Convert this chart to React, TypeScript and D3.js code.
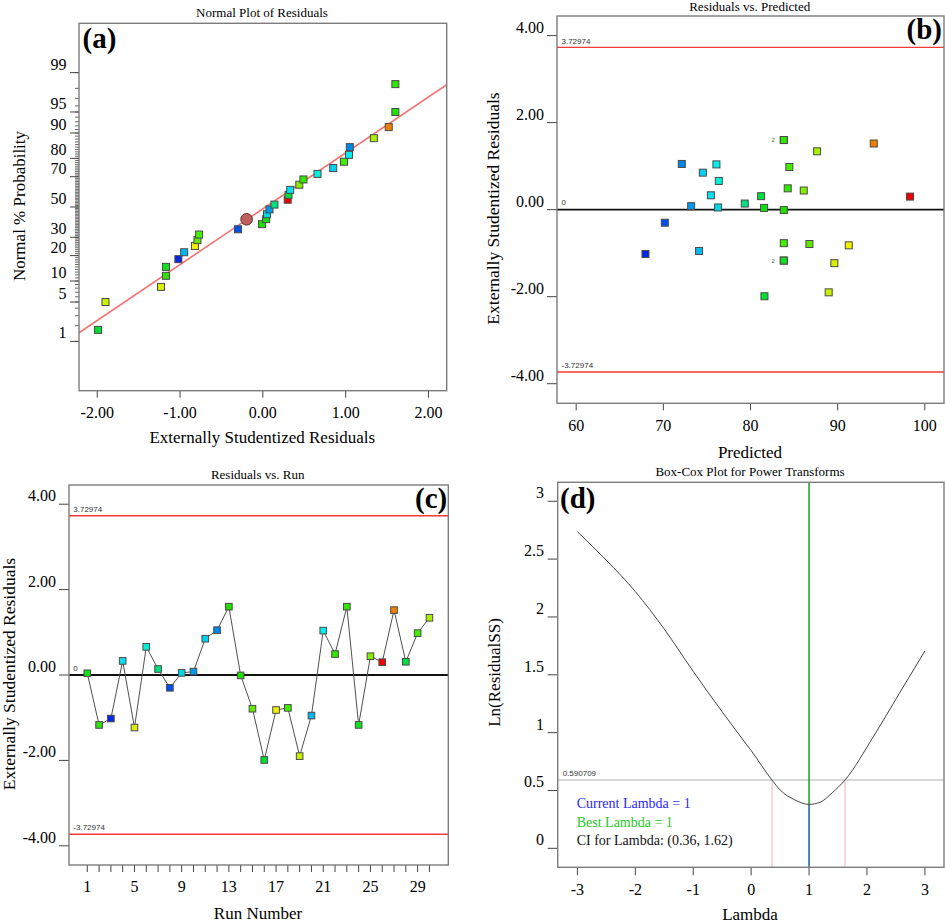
import React from 'react';
import * as d3 from 'd3';

// ---------------- DATA ----------------
const runNumbers = [1,2,3,4,5,6,7,8,9,10,11,12,13,14,15,16,17,18,19,20,21,22,23,24,25,26,27,28,29,30];
const residuals = [0.04,-1.17,-1.02,0.33,-1.23,0.66,0.14,-0.30,0.05,0.08,0.85,1.05,1.60,-0.01,-0.79,-1.99,-0.82,-0.77,-1.90,-0.95,1.04,0.49,1.60,-1.17,0.44,0.30,1.52,0.31,0.98,1.34];
const predicted = [81.56,83.82,67.95,75.45,89.62,76.36,79.34,70.17,76.28,73.19,74.53,72.12,83.82,83.82,86.76,81.6,91.27,83.82,88.97,74.1,76.09,84.27,83.82,83.82,86.11,98.3,94.14,81.22,84.46,87.64];
const runColors = ['#12e012','#30e010','#0028e0','#00e0f0','#d8f000','#00f0d8','#00e080','#0050f0','#00d8e8','#0098f0','#00d0f0','#0088e8','#20e000','#20e000','#60e800','#00e030','#f0f000','#40f000','#c8f000','#00b8f0','#00f0f0','#30e800','#30e800','#10e020','#80f000','#f00000','#f08000','#00e040','#40f000','#a8f000'];
// normal % probability of the sorted residuals
const normPct = [1.67,5,8.33,11.67,15,18.33,21.67,25,28.33,31.67,35,38.33,41.67,45,48.33,51.67,55,58.33,61.67,65,68.33,71.67,75,78.33,81.67,85,88.33,91.67,95,98.33];
const normLineSlope = 0.967;
const normLineIntercept = -0.03;
const normCircle = { x: -0.196, z: -0.213 };
const probMajor = [1,5,10,20,30,50,70,80,90,95,99];
const probMinor = [1,2,3,4,5,6,7,8,9,10,11,12,13,14,15,16,17,18,19,20,21,22,23,24,25,26,27,28,29,30,31,32,33,34,35,36,37,38,39,40,41,42,43,44,45,46,47,48,49,50,51,52,53,54,55,56,57,58,59,60,61,62,63,64,65,66,67,68,69,70,71,72,73,74,75,76,77,78,79,80,81,82,83,84,85,86,87,88,89,90,91,92,93,94,95,96,97,98,99];
const residTicksA = [-2,-1,0,1,2];
const residTicks = [-4,-2,0,2,4];
const predTicks = [60,70,80,90,100];
const runTicksLabeled = [1,5,9,13,17,21,25,29];
const outlierLimit = 3.72974;

const lambdaVals = [-3,-2.5,-2,-1.5,-1,-0.5,-0.19,0,0.36,0.5,0.75,1,1.19,1.4,1.62,2.11,2.56,3];
const lnRss = [2.737,2.49,2.22,1.895,1.53,1.18,0.971,0.845,0.59,0.505,0.42,0.38,0.398,0.48,0.59,0.965,1.34,1.706];
const lambdaTicks = [-3,-2,-1,0,1,2,3];
const lnTicks = [0,0.5,1,1.5,2,2.5,3];
const ciLow = 0.36, ciHigh = 1.62, ciThreshold = 0.590709, currentLambda = 1, bestLambda = 1;

// ---------------- HELPERS ----------------
const serif = '"Liberation Serif","Times New Roman",serif';
const sans = '"Liberation Sans","DejaVu Sans",sans-serif';
const frameColor = '#7c7c7c';

function invNorm(p: number): number {
  const a = [-39.69683028665376, 220.9460984245205, -275.9285104469687, 138.357751867269, -30.66479806614716, 2.506628277459239];
  const b = [-54.47609879822406, 161.5858368580409, -155.6989798598866, 66.80131188771972, -13.28068155288572];
  const c = [-0.007784894002430293, -0.3223964580411365, -2.400758277161838, -2.549732539343734, 4.374664141464968, 2.938163982698783];
  const d = [0.007784695709041462, 0.3224671290700398, 2.445134137142996, 3.754408661907416];
  const pl = 0.02425;
  let q, r;
  if (p < pl) {
    q = Math.sqrt(-2 * Math.log(p));
    return (((((c[0]*q+c[1])*q+c[2])*q+c[3])*q+c[4])*q+c[5]) / ((((d[0]*q+d[1])*q+d[2])*q+d[3])*q+1);
  } else if (p <= 1 - pl) {
    q = p - 0.5; r = q*q;
    return (((((a[0]*r+a[1])*r+a[2])*r+a[3])*r+a[4])*r+a[5])*q / (((((b[0]*r+b[1])*r+b[2])*r+b[3])*r+b[4])*r+1);
  } else {
    q = Math.sqrt(-2 * Math.log(1 - p));
    return -(((((c[0]*q+c[1])*q+c[2])*q+c[3])*q+c[4])*q+c[5]) / ((((d[0]*q+d[1])*q+d[2])*q+d[3])*q+1);
  }
}

const Sq = ({ x, y, fill, s = 7 }: any) => (
  <rect x={x - s / 2} y={y - s / 2} width={s} height={s} fill={fill} stroke="#4a4a4a" strokeWidth={1} />
);

// ---------------- PANELS ----------------
function PanelA() {
  const x0 = 79, x1 = 446.7, y0 = 23.3, y1 = 390.7;
  const xs = d3.scaleLinear().domain([-2.22, 2.22]).range([x0, x1]);
  const ys = d3.scaleLinear().domain([-3.18, 3.18]).range([y1, y0]);
  const order = d3.range(residuals.length).sort((i, j) => residuals[i] - residuals[j]);
  const lineX = xs.domain();
  return (
    <g>
      <text x={262} y={17} fontFamily={serif} fontSize={13} textAnchor="middle">Normal Plot of Residuals</text>
      <defs><clipPath id="clipA"><rect x={x0} y={y0} width={x1 - x0} height={y1 - y0} /></clipPath></defs>
      <line x1={xs(lineX[0])} y1={ys(normLineSlope * lineX[0] + normLineIntercept)} x2={xs(lineX[1])} y2={ys(normLineSlope * lineX[1] + normLineIntercept)} stroke="#f27272" strokeWidth={1.6} clipPath="url(#clipA)" />
      {probMinor.map(p => <line key={'m' + p} x1={x0 - 4} x2={x0} y1={ys(invNorm(p / 100))} y2={ys(invNorm(p / 100))} stroke="#555" strokeWidth={0.9} />)}
      {probMajor.map(p => (
        <g key={'M' + p}>
          <line x1={x0 - 9} x2={x0} y1={ys(invNorm(p / 100))} y2={ys(invNorm(p / 100))} stroke="#444" strokeWidth={1} />
          <text x={66.5} y={ys(invNorm(p / 100)) - 3} fontFamily={serif} fontSize={16} textAnchor="end">{p}</text>
        </g>
      ))}
      {residTicksA.map(t => (
        <g key={'x' + t}>
          <line x1={xs(t)} x2={xs(t)} y1={y1} y2={y1 + 7} stroke="#444" strokeWidth={1} />
          <text x={xs(t)} y={y1 + 27} fontFamily={serif} fontSize={16} textAnchor="middle">{t.toFixed(2)}</text>
        </g>
      ))}
      {order.map((i, k) => <Sq key={'p' + i} x={xs(residuals[i])} y={ys(invNorm(normPct[k] / 100))} fill={runColors[i]} />)}
      <circle cx={xs(normCircle.x)} cy={ys(normCircle.z)} r={5.8} fill="#c0605c" stroke="#5a2a2a" strokeWidth={1} />
      <rect x={x0} y={y0} width={x1 - x0} height={y1 - y0} fill="none" stroke={frameColor} strokeWidth={1.4} />
      <text x={82.5} y={48} fontFamily={serif} fontSize={29} fontWeight="bold">(a)</text>
      <text x={262.3} y={443} fontFamily={serif} fontSize={17} textAnchor="middle">Externally Studentized Residuals</text>
      <text transform={`translate(25,206) rotate(-90)`} fontFamily={serif} fontSize={17} textAnchor="middle">Normal % Probability</text>
    </g>
  );
}

function PanelB() {
  const x0 = 557, x1 = 944, y0 = 16, y1 = 403.3;
  const xs = d3.scaleLinear().domain([57.8, 102.2]).range([x0, x1]);
  const ys = d3.scaleLinear().domain([-4.45, 4.45]).range([y1, y0]);
  const counts = d3.rollup(runNumbers.map((_, i) => i), v => v.length, i => predicted[i] + '|' + residuals[i]);
  const seen = new Set<string>();
  return (
    <g>
      <text x={749.7} y={11} fontFamily={serif} fontSize={13} textAnchor="middle">Residuals vs. Predicted</text>
      <line x1={x0} x2={x1} y1={ys(outlierLimit)} y2={ys(outlierLimit)} stroke="#f03a3a" strokeWidth={1.4} />
      <line x1={x0} x2={x1} y1={ys(-outlierLimit)} y2={ys(-outlierLimit)} stroke="#f03a3a" strokeWidth={1.4} />
      <line x1={x0} x2={x1} y1={ys(0)} y2={ys(0)} stroke="#111" strokeWidth={1.8} />
      <text x={561.5} y={ys(outlierLimit) - 3.5} fontFamily={sans} fontSize={8} fill="#333">{outlierLimit.toString()}</text>
      <text x={561.5} y={ys(0) - 4.5} fontFamily={sans} fontSize={8} fill="#333">0</text>
      <text x={561.5} y={ys(-outlierLimit) - 4} fontFamily={sans} fontSize={8} fill="#333">{(-outlierLimit).toString()}</text>
      {residTicks.map(t => (
        <g key={'y' + t}>
          <line x1={x0 - 10} x2={x0} y1={ys(t)} y2={ys(t)} stroke="#444" strokeWidth={1} />
          <text x={544} y={ys(t) - 3} fontFamily={serif} fontSize={16} textAnchor="end">{t.toFixed(2)}</text>
        </g>
      ))}
      {predTicks.map(t => (
        <g key={'x' + t}>
          <line x1={xs(t)} x2={xs(t)} y1={y1} y2={y1 + 7} stroke="#444" strokeWidth={1} />
          <text x={xs(t)} y={y1 + 28} fontFamily={serif} fontSize={16} textAnchor="middle">{t}</text>
        </g>
      ))}
      {runNumbers.map((_, i) => {
        const key = predicted[i] + '|' + residuals[i];
        const c = counts.get(key) || 1;
        const first = !seen.has(key);
        seen.add(key);
        return (
          <g key={'p' + i}>
            <Sq x={xs(predicted[i])} y={ys(residuals[i])} fill={runColors[i]} />
            {c > 1 && first ? <text x={xs(predicted[i]) - 9} y={ys(residuals[i]) + 2} fontFamily={sans} fontSize={6} fill="#555" textAnchor="end">{c}</text> : null}
          </g>
        );
      })}
      <rect x={x0} y={y0} width={x1 - x0} height={y1 - y0} fill="none" stroke={frameColor} strokeWidth={1.4} />
      <text x={906.5} y={39} fontFamily={serif} fontSize={29} fontWeight="bold">(b)</text>
      <text x={750} y={458} fontFamily={serif} fontSize={17} textAnchor="middle">Predicted</text>
      <text transform={`translate(499,208.5) rotate(-90)`} fontFamily={serif} fontSize={17.5} textAnchor="middle">Externally Studentized Residuals</text>
    </g>
  );
}

function PanelC() {
  const x0 = 69, x1 = 448.3, y0 = 485, y1 = 865;
  const xs = d3.scaleLinear().domain([-0.55, 31.6]).range([x0, x1]);
  const ys = d3.scaleLinear().domain([-4.45, 4.45]).range([y1, y0]);
  const path = d3.line<number>().x(i => xs(runNumbers[i])).y(i => ys(residuals[i]))(runNumbers.map((_, i) => i));
  return (
    <g>
      <text x={257.7} y={479} fontFamily={serif} fontSize={13} textAnchor="middle">Residuals vs. Run</text>
      <line x1={x0} x2={x1} y1={ys(outlierLimit)} y2={ys(outlierLimit)} stroke="#f03a3a" strokeWidth={1.4} />
      <line x1={x0} x2={x1} y1={ys(-outlierLimit)} y2={ys(-outlierLimit)} stroke="#f03a3a" strokeWidth={1.4} />
      <line x1={x0} x2={x1} y1={ys(0)} y2={ys(0)} stroke="#111" strokeWidth={1.8} />
      <text x={73.3} y={ys(outlierLimit) - 3.5} fontFamily={sans} fontSize={8} fill="#333">{outlierLimit.toString()}</text>
      <text x={73.3} y={ys(0) - 4.5} fontFamily={sans} fontSize={8} fill="#333">0</text>
      <text x={73.3} y={ys(-outlierLimit) - 4} fontFamily={sans} fontSize={8} fill="#333">{(-outlierLimit).toString()}</text>
      {residTicks.map(t => (
        <g key={'y' + t}>
          <line x1={x0 - 10} x2={x0} y1={ys(t)} y2={ys(t)} stroke="#444" strokeWidth={1} />
          <text x={56} y={ys(t) - 3} fontFamily={serif} fontSize={16} textAnchor="end">{t.toFixed(2)}</text>
        </g>
      ))}
      {runNumbers.map(r => <line key={'t' + r} x1={xs(r)} x2={xs(r)} y1={y1} y2={y1 + 7} stroke="#444" strokeWidth={1} />)}
      {runTicksLabeled.map(t => <text key={'l' + t} x={xs(t)} y={y1 + 26.7} fontFamily={serif} fontSize={16} textAnchor="middle">{t}</text>)}
      <path d={path || ''} fill="none" stroke="#505050" strokeWidth={1} />
      {runNumbers.map((r, i) => <Sq key={'p' + i} x={xs(r)} y={ys(residuals[i])} fill={runColors[i]} s={6.6} />)}
      <rect x={x0} y={y0} width={x1 - x0} height={y1 - y0} fill="none" stroke={frameColor} strokeWidth={1.4} />
      <text x={415} y={508} fontFamily={serif} fontSize={29} fontWeight="bold">(c)</text>
      <text x={258} y={919} fontFamily={serif} fontSize={17} textAnchor="middle">Run Number</text>
      <text transform={`translate(14.5,674) rotate(-90)`} fontFamily={serif} fontSize={17.5} textAnchor="middle">Externally Studentized Residuals</text>
    </g>
  );
}

function PanelD() {
  const x0 = 557.7, x1 = 944, y0 = 482.3, y1 = 867.3;
  const xs = d3.scaleLinear().domain([-3.34, 3.33]).range([x0, x1]);
  const ys = d3.scaleLinear().domain([-0.164, 3.164]).range([y1, y0]);
  const path = d3.line<number>().x(i => xs(lambdaVals[i])).y(i => ys(lnRss[i])).curve(d3.curveMonotoneX)(lambdaVals.map((_, i) => i));
  const minIdx = d3.minIndex(lnRss);
  return (
    <g>
      <text x={750} y={476} fontFamily={serif} fontSize={13} textAnchor="middle">Box-Cox Plot for Power Transforms</text>
      <line x1={x0} x2={x1} y1={ys(ciThreshold)} y2={ys(ciThreshold)} stroke="#c8c8c8" strokeWidth={1.5} />
      <text x={562.7} y={ys(ciThreshold) - 4} fontFamily={sans} fontSize={8} fill="#333">{ciThreshold.toString()}</text>
      <line x1={xs(ciLow)} x2={xs(ciLow)} y1={ys(ciThreshold)} y2={y1} stroke="#f6c4c4" strokeWidth={1.3} />
      <line x1={xs(ciHigh)} x2={xs(ciHigh)} y1={ys(ciThreshold)} y2={y1} stroke="#f6c4c4" strokeWidth={1.3} />
      <line x1={xs(bestLambda)} x2={xs(bestLambda)} y1={y0} y2={ys(lnRss[minIdx])} stroke="#22a82a" strokeWidth={1.6} />
      <line x1={xs(currentLambda)} x2={xs(currentLambda)} y1={ys(lnRss[minIdx])} y2={y1} stroke="#1f6a9a" strokeWidth={1.6} />
      <path d={path || ''} fill="none" stroke="#454545" strokeWidth={1} />
      {lnTicks.map(t => (
        <g key={'y' + t}>
          <line x1={x0 - 10} x2={x0} y1={ys(t)} y2={ys(t)} stroke="#444" strokeWidth={1} />
          <text x={544} y={ys(t) - 3} fontFamily={serif} fontSize={16} textAnchor="end">{t}</text>
        </g>
      ))}
      {lambdaTicks.map(t => (
        <g key={'x' + t}>
          <line x1={xs(t)} x2={xs(t)} y1={y1} y2={y1 + 8} stroke="#444" strokeWidth={1} />
          <text x={xs(t)} y={y1 + 27.7} fontFamily={serif} fontSize={16} textAnchor="middle">{t}</text>
        </g>
      ))}
      <text x={576.7} y={808} fontFamily={serif} fontSize={14} fill="#2828ff">Current Lambda = {currentLambda}</text>
      <text x={576.7} y={826.5} fontFamily={serif} fontSize={14} fill="#28c828">Best Lambda = {bestLambda}</text>
      <text x={576.7} y={845} fontFamily={serif} fontSize={14} fill="#111">CI for Lambda: ({ciLow.toFixed(2)}, {ciHigh.toFixed(2)})</text>
      <rect x={x0} y={y0} width={x1 - x0} height={y1 - y0} fill="none" stroke={frameColor} strokeWidth={1.4} />
      <text x={560} y={508} fontFamily={serif} fontSize={29} fontWeight="bold">(d)</text>
      <text x={750} y={919.5} fontFamily={serif} fontSize={17} textAnchor="middle">Lambda</text>
      <text transform={`translate(500,672.5) rotate(-90)`} fontFamily={serif} fontSize={17} textAnchor="middle">Ln(ResidualSS)</text>
    </g>
  );
}

export default function App() {
  return (
    <svg width={945} height={923} style={{ position: 'absolute', left: 0, top: 0, background: '#fff' }} xmlns="http://www.w3.org/2000/svg">
      <rect x={0} y={0} width={945} height={923} fill="#fff" />
      <PanelA />
      <PanelB />
      <PanelC />
      <PanelD />
    </svg>
  );
}
